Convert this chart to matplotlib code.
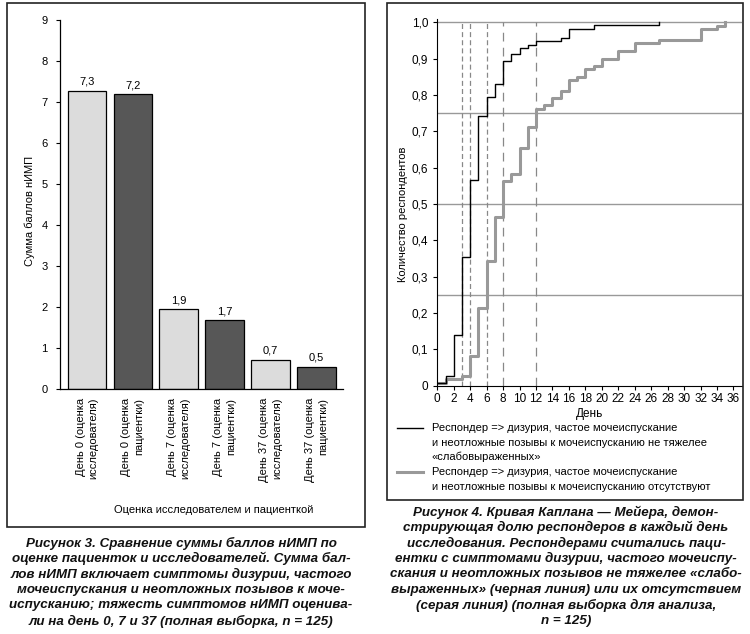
import matplotlib
matplotlib.use("Agg")
import matplotlib.pyplot as plt
from matplotlib.lines import Line2D
from matplotlib.patches import Rectangle

plt.rcParams['font.family'] = ['Liberation Sans', 'DejaVu Sans']
plt.rcParams['font.size'] = 8

# --- data: figure 3 (bars) ---
bar_labels = ['День 0 (оценка\nисследователя)', 'День 0 (оценка\nпациентки)',
              'День 7 (оценка\nисследователя)', 'День 7 (оценка\nпациентки)',
              'День 37 (оценка\nисследователя)', 'День 37 (оценка\nпациентки)']
bar_values = [7.27, 7.19, 1.95, 1.68, 0.71, 0.54]
bar_text = ['7,3', '7,2', '1,9', '1,7', '0,7', '0,5']
bar_yticks = [0, 1, 2, 3, 4, 5, 6, 7, 8, 9]

# --- data: figure 4 (Kaplan-Meier) ---
km_black_days = [0, 1, 2, 3, 4, 5, 6, 7, 8, 9, 10, 11, 12, 15, 16, 19, 27]
km_black_vals = [0.008, 0.026, 0.139, 0.353, 0.565, 0.742, 0.793, 0.830, 0.893,
                 0.913, 0.928, 0.938, 0.948, 0.956, 0.980, 0.992, 1.0]
km_gray_days = [0, 1, 3, 4, 5, 6, 7, 8, 9, 10, 11, 12, 13, 14, 15, 16, 17, 18,
                19, 20, 22, 24, 27, 32, 34, 35]
km_gray_vals = [0.008, 0.018, 0.028, 0.081, 0.215, 0.343, 0.465, 0.564, 0.583,
                0.653, 0.713, 0.762, 0.773, 0.792, 0.812, 0.841, 0.850, 0.872,
                0.880, 0.898, 0.922, 0.942, 0.950, 0.980, 0.990, 1.0]
km_hlines = [0.25, 0.5, 0.75, 1.0]
km_short_dash_days = [3, 4, 6]
km_long_dash_days = [8, 12]
km_xticks = list(range(0, 37, 2))
km_yticks = [0, 0.1, 0.2, 0.3, 0.4, 0.5, 0.6, 0.7, 0.8, 0.9, 1.0]
km_yticklabels = ['0', '0,1', '0,2', '0,3', '0,4', '0,5', '0,6', '0,7', '0,8', '0,9', '1,0']

legend_black = ['Респондер => дизурия, частое мочеиспускание',
                'и неотложные позывы к мочеиспусканию не тяжелее',
                '«слабовыраженных»']
legend_gray = ['Респондер => дизурия, частое мочеиспускание',
               'и неотложные позывы к мочеиспусканию отсутствуют']

caption3 = ['Рисунок 3. Сравнение суммы баллов нИМП по',
            'оценке пациенток и исследователей. Сумма бал-',
            'лов нИМП включает симптомы дизурии, частого',
            'мочеиспускания и неотложных позывов к моче-',
            'испусканию; тяжесть симптомов нИМП оценива-',
            'ли на день 0, 7 и 37 (полная выборка, n = 125)']
caption4 = ['Рисунок 4. Кривая Каплана — Мейера, демон-',
            'стрирующая долю респондеров в каждый день',
            'исследования. Респондерами считались паци-',
            'ентки с симптомами дизурии, частого мочеиспу-',
            'скания и неотложных позывов не тяжелее «слабо-',
            'выраженных» (черная линия) или их отсутствием',
            '(серая линия) (полная выборка для анализа,',
            'n = 125)']

W, H = 750, 634


def fx(x):
    return x / W


def fy(y):
    return 1 - y / H


fig = plt.figure(figsize=(7.5, 6.34), dpi=100)

# frames around the two panels
fig.add_artist(Rectangle((fx(7), fy(527)), fx(358), (527 - 3) / H, fill=False,
                         edgecolor='#222222', linewidth=1.2, transform=fig.transFigure))
fig.add_artist(Rectangle((fx(387), fy(500)), fx(356), (500 - 3) / H, fill=False,
                         edgecolor='#222222', linewidth=1.2, transform=fig.transFigure))

# ---------- left: bars ----------
ax1 = fig.add_axes([fx(60.3), fy(389.3), fx(343 - 60.3), (389.3 - 20) / H])
colors = ['#dcdcdc', '#575757'] * 3
x = range(len(bar_values))
bars = ax1.bar(x, bar_values, width=0.84, color=colors, edgecolor='black', linewidth=0.9)
ax1.bar_label(bars, labels=bar_text, padding=3, fontsize=8)
ax1.set_xlim(-0.58, 5.58)
ax1.set_ylim(0, 9)
ax1.set_yticks(bar_yticks)
ax1.set_xticks(list(x))
ax1.set_xticklabels(bar_labels, rotation=90, ha='center', va='top',
                    multialignment='right', linespacing=1.35)
ax1.tick_params(axis='x', length=0, pad=6)
ax1.tick_params(axis='y', length=3, width=0.8, pad=6)
for s in ['top', 'right']:
    ax1.spines[s].set_visible(False)
ax1.spines['left'].set_linewidth(0.9)
ax1.spines['bottom'].set_linewidth(0.9)
fig.text(fx(30), fy(211), 'Сумма баллов нИМП', rotation=90, ha='center', va='center')
fig.text(fx(214), fy(510), 'Оценка исследователем и пациенткой', ha='center', va='center')

# ---------- right: Kaplan-Meier ----------
ax2 = fig.add_axes([fx(437.3), fy(385.7), fx(741.7 - 437.3), (385.7 - 19.3) / H])
ax2.set_xlim(0, 37)
ax2.set_ylim(0, 1.008)
for h in km_hlines:
    ax2.axhline(h, color='#999999', linewidth=1.0, zorder=1)
for d in km_short_dash_days:
    ax2.plot([d, d], [0, 1.0], color='#888888', linewidth=0.9, dashes=(4, 2.5), zorder=1)
for d in km_long_dash_days:
    ax2.plot([d, d], [0, 1.0], color='#888888', linewidth=0.9, dashes=(7, 5), zorder=1)
ax2.step(km_gray_days, km_gray_vals, where='post', color='#999999', linewidth=2.2, zorder=2)
ax2.step(km_black_days, km_black_vals, where='post', color='black', linewidth=1.0, zorder=3)
ax2.set_xticks(km_xticks)
ax2.set_yticks(km_yticks)
ax2.set_yticklabels(km_yticklabels)
ax2.tick_params(axis='both', length=3, width=0.8, labelsize=8.5)
ax2.tick_params(axis='x', pad=2)
for s in ['top', 'right']:
    ax2.spines[s].set_visible(False)
fig.text(fx(590), fy(414), 'День', ha='center', va='center', fontsize=8.5)
fig.text(fx(403), fy(214), 'Количество респондентов', rotation=90, ha='center', va='center')

# legend drawn by hand (handle next to first line)
fig.add_artist(Line2D([fx(397), fx(423)], [fy(428), fy(428)], color='black', linewidth=1.0))
fig.add_artist(Line2D([fx(397), fx(423)], [fy(472), fy(472)], color='#999999', linewidth=2.2))
for i, line in enumerate(legend_black):
    fig.text(fx(432), fy(428 + i * 14.5), line, ha='left', va='center', fontsize=8)
for i, line in enumerate(legend_gray):
    fig.text(fx(432), fy(472 + i * 14.5), line, ha='left', va='center', fontsize=8)

# captions
cap_font = dict(family=['Liberation Sans Narrow', 'Liberation Sans', 'DejaVu Sans'],
                weight='bold', style='italic', fontsize=9.6, ha='center', va='center',
                color='#111111')
for i, line in enumerate(caption3):
    fig.text(fx(181), fy(543 + i * 15.6), line, **cap_font)
for i, line in enumerate(caption4):
    fig.text(fx(566), fy(512 + i * 15.6), line, **cap_font)

fig.savefig('out.png', dpi=100)
